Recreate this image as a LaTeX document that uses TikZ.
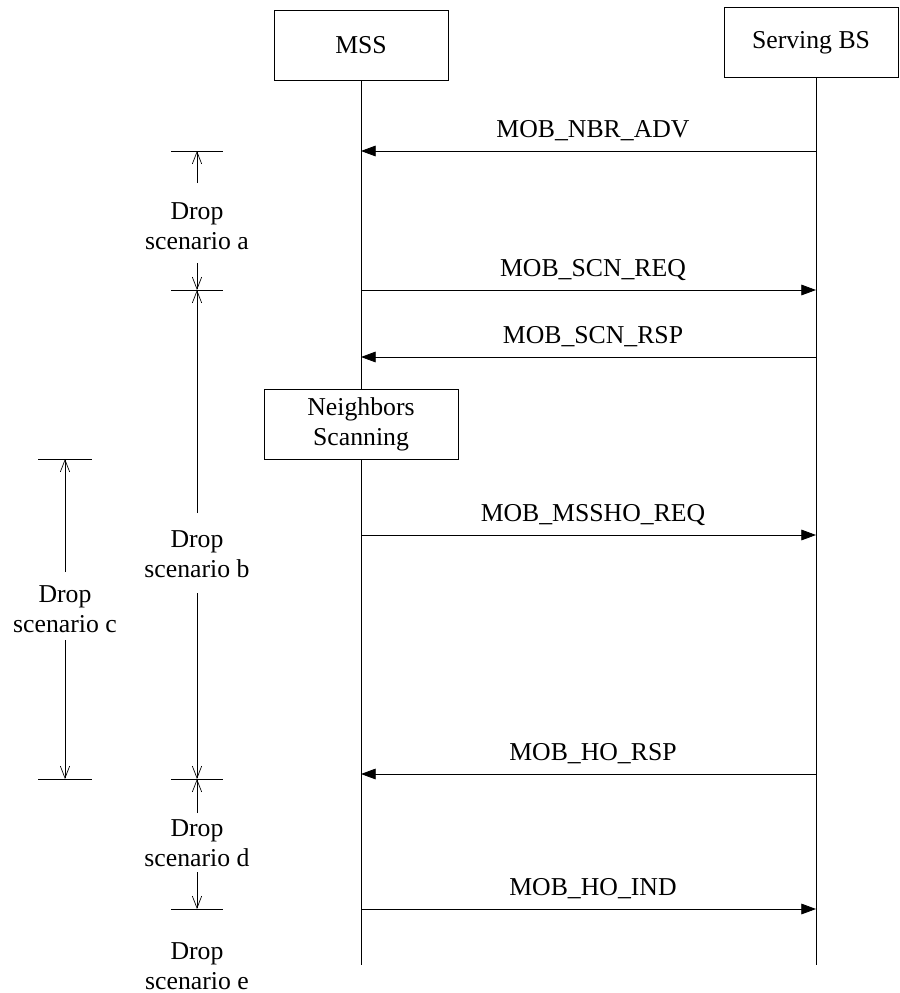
\documentclass[tikz,border=0pt]{standalone}
\usepackage{fontspec}
\setmainfont{Liberation Serif}
\usetikzlibrary{arrows.meta}
\begin{document}
\begin{tikzpicture}[x=0.75pt,y=-0.75pt,line width=0.6pt,
  every node/.style={font=\fontsize{19.3}{22.5}\selectfont, inner sep=0pt, align=center},
  actor/.style={draw, fill=white, minimum width=130.5pt, minimum height=52.5pt},
  msgarrow/.style={-{Triangle[length=11pt,width=8pt]}},
  dimarrow/.style={-{Straight Barb[length=9pt,width=7pt]}, line width=0.5pt},
  tick/.style={line width=0.6pt},
  lbl/.style={anchor=base}]
\useasboundingbox (0,0) rectangle (900,993);
% actors
\node[actor] (mss) at (361,45) {MSS};
\node[actor, minimum width=130.5pt, minimum height=53pt] (bs) at (811,42.5) {Serving BS};
% lifelines
\coordinate (mssend) at (361,965);
\coordinate (bsend) at (816,965);
\draw (mss.south) -- (mssend);
\draw (bsend |- bs.south) -- (bsend);
% neighbors scanning box
\node[actor, minimum width=145.5pt, minimum height=52.5pt] (scan) at (361,424) {Neighbors\\Scanning};
% message end points
\foreach \n/\y in {1/151,2/290,3/357,4/535,5/774,6/909}{
  \coordinate (m\n) at (361,\y);
  \coordinate (b\n) at (816,\y);
}
\draw[msgarrow] (b1) -- (m1);
\draw[msgarrow] (m2) -- (b2);
\draw[msgarrow] (b3) -- (m3);
\draw[msgarrow] (m4) -- (b4);
\draw[msgarrow] (b5) -- (m5);
\draw[msgarrow] (m6) -- (b6);
% message labels
\node[lbl] (l1) at (593,137) {MOB\_NBR\_ADV};
\node[lbl] (l2) at (593,276) {MOB\_SCN\_REQ};
\node[lbl] (l3) at (593,343) {MOB\_SCN\_RSP};
\node[lbl] (l4) at (593,521) {MOB\_MSSHO\_REQ};
\node[lbl] (l5) at (593,760) {MOB\_HO\_RSP};
\node[lbl] (l6) at (593,895) {MOB\_HO\_IND};
% drop scenario ticks
\coordinate (ta) at (197,151);
\coordinate (tb) at (197,290);
\coordinate (td) at (197,779);
\coordinate (te) at (197,909);
\coordinate (tc1) at (65,459);
\coordinate (tc2) at (65,779);
\foreach \t in {ta,tb,td,te}{
  \draw[tick] ([xshift=-19.5pt]\t) -- ([xshift=19.5pt]\t);
}
\foreach \t in {tc1,tc2}{
  \draw[tick] ([xshift=-20.25pt]\t) -- ([xshift=20.25pt]\t);
}
% drop scenario labels
\node (da) at (197,226) {Drop\\scenario a};
\node (db) at (197,554) {Drop\\scenario b};
\node (dc) at (65,609) {Drop\\scenario c};
\node (dd) at (197,843) {Drop\\scenario d};
\node (de) at (197,966) {Drop\\scenario e};
% drop scenario dimension arrows
\coordinate (a1) at (197,183);
\coordinate (a2) at (197,263);
\coordinate (b1s) at (197,513);
\coordinate (b2s) at (197,593);
\coordinate (c1) at (65,572);
\coordinate (c2) at (65,640);
\coordinate (d1) at (197,813);
\coordinate (d2) at (197,872);
\draw[dimarrow] (a1) -- (ta);
\draw[dimarrow] (a2) -- (tb);
\draw[dimarrow] (b1s) -- (tb);
\draw[dimarrow] (b2s) -- (td);
\draw[dimarrow] (c1) -- (tc1);
\draw[dimarrow] (c2) -- (tc2);
\draw[dimarrow] (d1) -- (td);
\draw[dimarrow] (d2) -- (te);
\end{tikzpicture}
\end{document}
